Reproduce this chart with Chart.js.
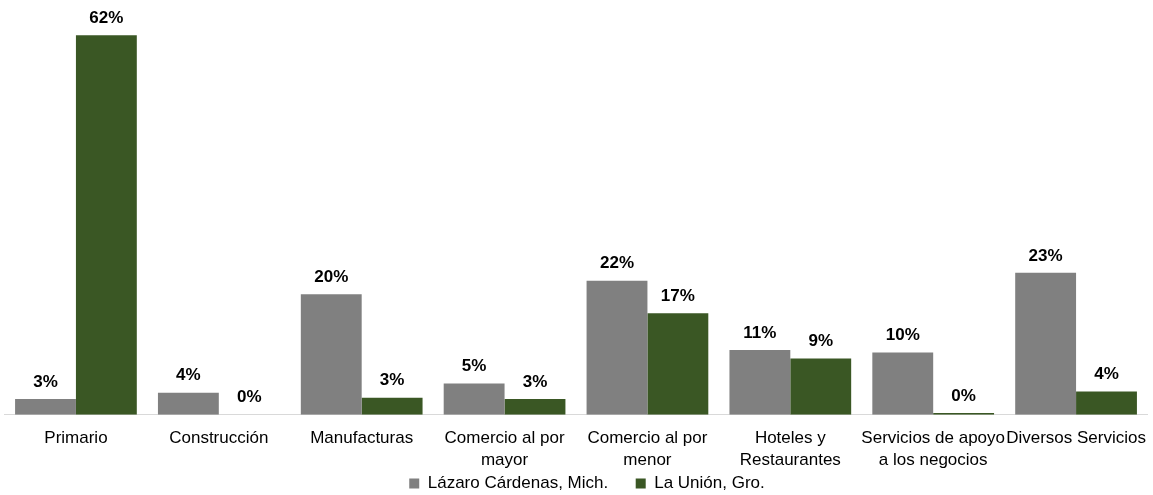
<!DOCTYPE html>
<html>
<head>
<meta charset="utf-8">
<script src="https://cdn.jsdelivr.net/npm/chart.js@4.4.1/dist/chart.umd.min.js"></script>
<style>
html, body { margin: 0; padding: 0; background: #fff; overflow: hidden; }
#wrap { width: 1153px; height: 495px; position: relative; }
</style>
</head>
<body>
<div id="wrap"><canvas id="c"></canvas></div>
<script>
const categories = [
  ["Primario"],
  ["Construcción"],
  ["Manufacturas"],
  ["Comercio al por", "mayor"],
  ["Comercio al por", "menor"],
  ["Hoteles y", "Restaurantes"],
  ["Servicios de apoyo", "a los negocios"],
  ["Diversos Servicios"]
];
const seriesNames = ["Lázaro Cárdenas, Mich.", "La Unión, Gro."];
const lazaroValues = [2.6, 3.6, 19.7, 5.1, 21.9, 10.6, 10.2, 23.2];
const unionValues  = [62.0, 0.0, 2.8, 2.6, 16.6, 9.2, 0.3, 3.8];

const barLabels = {
  id: 'barLabels',
  afterDatasetsDraw(chart) {
    const ctx = chart.ctx;
    ctx.save();
    ctx.font = 'bold 17px "Liberation Sans", Arial, sans-serif';
    ctx.fillStyle = '#000';
    ctx.textAlign = 'center';
    ctx.textBaseline = 'middle';
    chart.data.datasets.forEach((ds, i) => {
      chart.getDatasetMeta(i).data.forEach((bar, j) => {
        ctx.fillText(Math.round(ds.data[j]) + '%', bar.x, bar.y - 17);
      });
    });
    ctx.restore();
  }
};

// Let the legend sit lower / right and let axis labels extend under it
const layoutTweak = {
  id: 'layoutTweak',
  afterLayout(chart) {
    const lg = chart.legend;
    if (lg) { lg.top += 7; lg.bottom += 7; lg.left += 11; lg.right += 11; }
    const x = chart.scales.x;
    x.bottom = chart.height;
  }
};

new Chart(document.getElementById('c'), {
  type: 'bar',
  data: {
    labels: categories,
    datasets: [
      { label: seriesNames[0], data: lazaroValues, backgroundColor: '#808080' },
      { label: seriesNames[1], data: unionValues, backgroundColor: '#3a5724' }
    ]
  },
  options: {
    responsive: true,
    maintainAspectRatio: false,
    animation: false,
    layout: { padding: { top: 17, left: 4.5, right: 5.5, bottom: 0 } },
    datasets: { bar: { categoryPercentage: 0.852, barPercentage: 1.0 } },
    scales: {
      x: {
        grid: { display: false, drawTicks: false },
        border: { display: true, color: '#d9d9d9', width: 1 },
        ticks: {
          autoSkip: false, maxRotation: 0, minRotation: 0, padding: 12,
          color: '#000',
          font: { family: '"Liberation Sans", Arial, sans-serif', size: 17, lineHeight: 1.3 }
        },
        afterFit(scale) {
          scale.height -= 42.5;
          scale.paddingLeft = 0;
          scale.paddingRight = 0;
        }
      },
      y: { display: false, min: 0, max: 65 }
    },
    plugins: {
      legend: {
        position: 'bottom',
        labels: {
          boxWidth: 10, boxHeight: 10, padding: 27.5, color: '#000',
          font: { family: '"Liberation Sans", Arial, sans-serif', size: 17 }
        }
      },
      tooltip: { enabled: false }
    }
  },
  plugins: [barLabels, layoutTweak]
});
</script>
</body>
</html>
